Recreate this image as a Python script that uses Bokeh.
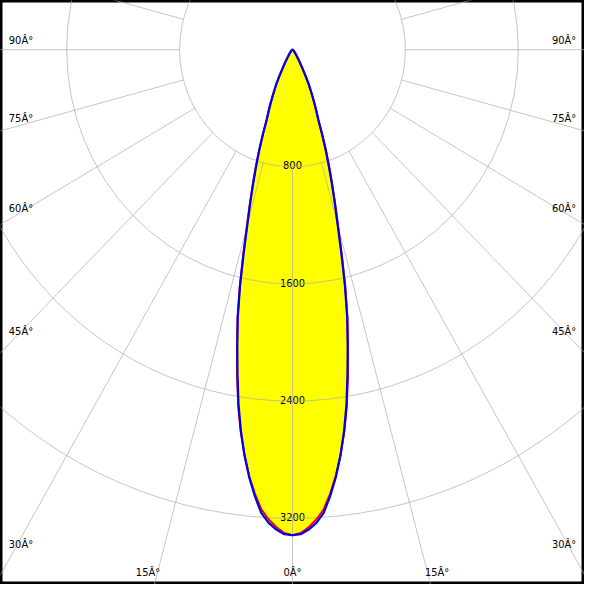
import numpy as np
from bokeh.plotting import figure
from bokeh.models import Range1d
from bokeh.embed import file_html
from bokeh.resources import INLINE
from bokeh.core.properties import value

# ---------------- data ----------------
angles_deg = [0, 1, 2, 3, 4, 5, 6, 7, 8, 9, 10, 11, 12, 13, 14, 15, 16, 17, 18, 19,
              20, 21, 22, 23, 24, 25, 26, 27, 28, 29, 30, 31, 32, 33, 34, 35,
              40, 45, 50, 55, 60, 65, 70, 75, 80, 85, 90]
intensity_c0 = [3315, 3308, 3278, 3235, 3170, 3060, 2935, 2790, 2628, 2448,
                2245, 2050, 1865, 1652, 1430, 1235, 1086, 952, 830, 720,
                609, 505, 450, 395, 345, 300, 260, 216, 172, 140,
                115, 95, 80, 68, 58, 50,
                26, 15, 10, 7, 5, 4, 3, 2, 1, 0, 0]
intensity_c90 = [3315, 3300, 3262, 3212, 3148, 3045, 2928, 2790, 2635, 2462,
                 2262, 2060, 1872, 1662, 1445, 1250, 1100, 965, 842, 728,
                 612, 508, 452, 396, 346, 301, 261, 216, 173, 141,
                 116, 96, 80, 68, 58, 50,
                 26, 15, 10, 7, 5, 4, 3, 2, 1, 0, 0]
ring_values = [800, 1600, 2400, 3200]
ring_labels = ["800", "1600", "2400", "3200"]
spoke_angles = list(range(-180, 180, 15))
angle_label_values = [90, 75, 60, 45, 30, 15, 0]
angle_label_texts = ["90\u00c2\u00b0", "75\u00c2\u00b0", "60\u00c2\u00b0", "45\u00c2\u00b0",
                     "30\u00c2\u00b0", "15\u00c2\u00b0", "0\u00c2\u00b0"]

# ---------------- geometry (reference pixel space) ----------------
REF = 600.0
SIZE = 584
K = SIZE / REF
CX, CY = 300.0, 50.5          # pole position
SX, SY = 0.145, 0.1505        # px per cd horizontally / vertically
R_OUT = 6000

def to_data(px, py):
    return (px - CX) / SX, (CY - py) / SY

x0, y1 = to_data(0, 0)
x1, y0 = to_data(REF, REF)

p = figure(width=SIZE, height=SIZE, x_range=Range1d(x0, x1), y_range=Range1d(y0, y1),
           x_axis_type=None, y_axis_type=None, min_border=0,
           toolbar_location=None, output_backend="svg",
           background_fill_color="white", border_fill_color="white")
p.outline_line_color = "black"
p.outline_line_width = 4

font = value("DejaVu Sans")
fsize = value("%.1fpx" % (10.2 * K))
grid_col = "#aaaaaa"
grid_alpha = 0.7

# ---------------- lobe fill ----------------
th = np.radians(np.array(angles_deg, dtype=float))
Ib = np.array(intensity_c0, dtype=float)
Ir = np.array(intensity_c90, dtype=float)

def curve(I):
    t = np.concatenate([-th[::-1], th[1:]])
    r = np.concatenate([I[::-1], I[1:]])
    return r * np.sin(t), -r * np.cos(t)

bx, by = curve(Ib)
rx, ry = curve(Ir)
p.patch(bx, by, fill_color="#ffff00", line_color=None)

# ---------------- ring labels ----------------
lab_y = [-(r) + 1.5 / SY for r in ring_values]
p.text(x=[0] * len(ring_values), y=lab_y, text=ring_labels, text_font=font,
       text_font_size=fsize, text_align="center", text_baseline="alphabetic",
       text_color="black")

# ---------------- grid ----------------
d = [2 * r for r in ring_values]
p.ellipse(x=[0] * len(ring_values), y=[0] * len(ring_values), width=d, height=d,
          fill_color=None, line_color=grid_col, line_alpha=grid_alpha, line_width=1.0 * K)

sa = np.radians(np.array(spoke_angles, dtype=float))
r0 = ring_values[0]
p.segment(x0=r0 * np.sin(sa), y0=-r0 * np.cos(sa), x1=R_OUT * np.sin(sa), y1=-R_OUT * np.cos(sa),
          line_color=grid_col, line_alpha=grid_alpha, line_width=1.0 * K)

# ---------------- angle labels ----------------
EDGE_C = 21.0      # label centre distance from side edge
EDGE_X = 12.0      # where the ray is sampled near the side
BOTTOM_C = 588.0
lx, ly, lt = [], [], []
for a, txt in zip(angle_label_values, angle_label_texts):
    ar = np.radians(a)
    s, c = np.sin(ar), np.cos(ar)
    t_side = (CX - EDGE_X) / (s * SX) if s > 1e-9 else np.inf
    t_bot = (BOTTOM_C - CY) / (c * SY) if c > 1e-9 else np.inf
    sides = (-1, 1) if a != 0 else (1,)
    for side in sides:
        if t_side < t_bot:
            px = EDGE_C if side < 0 else REF - EDGE_C
            py = CY + t_side * c * SY - 9.0
        else:
            px = CX + side * t_bot * s * SX * 1.07
            py = BOTTOM_C
        dx, dy = to_data(px, py)
        lx.append(dx); ly.append(dy); lt.append(txt)
p.text(x=lx, y=ly, text=lt, text_font=font, text_font_size=fsize,
       text_align="center", text_baseline="middle", text_color="black")

# ---------------- curves ----------------
p.line(rx, ry, line_color="#ff0000", line_width=2.0 * K, line_join="round")
p.line(bx, by, line_color="#0000f0", line_width=2.3 * K, line_join="round")

open("out.html", "w").write(file_html(p, INLINE))
